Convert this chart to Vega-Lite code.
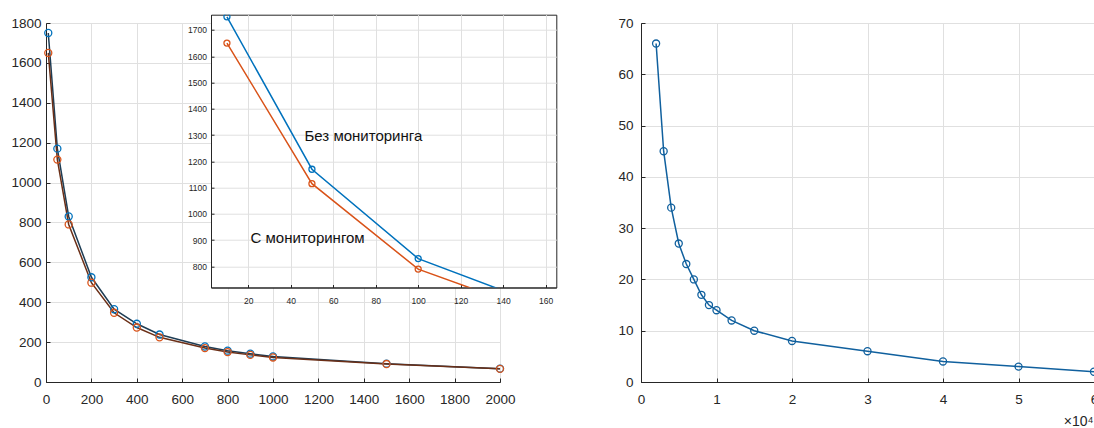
{
  "$schema": "https://vega.github.io/schema/vega-lite/v6.json",
  "autosize": {"type": "none"},
  "padding": {"left": 46, "top": 23, "right": 1048, "bottom": 405},
  "background": "white",
  "datasets": {
    "main": [
      {"x": 10, "y": 1750, "series": "Без мониторинга"},
      {"x": 50, "y": 1170, "series": "Без мониторинга"},
      {"x": 100, "y": 830, "series": "Без мониторинга"},
      {"x": 200, "y": 525, "series": "Без мониторинга"},
      {"x": 300, "y": 365, "series": "Без мониторинга"},
      {"x": 400, "y": 292, "series": "Без мониторинга"},
      {"x": 500, "y": 238, "series": "Без мониторинга"},
      {"x": 700, "y": 178, "series": "Без мониторинга"},
      {"x": 800, "y": 157, "series": "Без мониторинга"},
      {"x": 900, "y": 142, "series": "Без мониторинга"},
      {"x": 1000, "y": 128, "series": "Без мониторинга"},
      {"x": 1500, "y": 92, "series": "Без мониторинга"},
      {"x": 2000, "y": 67, "series": "Без мониторинга"},
      {"x": 10, "y": 1650, "series": "С мониторингом"},
      {"x": 50, "y": 1115, "series": "С мониторингом"},
      {"x": 100, "y": 790, "series": "С мониторингом"},
      {"x": 200, "y": 498, "series": "С мониторингом"},
      {"x": 300, "y": 347, "series": "С мониторингом"},
      {"x": 400, "y": 273, "series": "С мониторингом"},
      {"x": 500, "y": 224, "series": "С мониторингом"},
      {"x": 700, "y": 170, "series": "С мониторингом"},
      {"x": 800, "y": 150, "series": "С мониторингом"},
      {"x": 900, "y": 136, "series": "С мониторингом"},
      {"x": 1000, "y": 123, "series": "С мониторингом"},
      {"x": 1500, "y": 90, "series": "С мониторингом"},
      {"x": 2000, "y": 66, "series": "С мониторингом"}
    ],
    "right": [
      {"n": 2000, "v": 66},
      {"n": 3000, "v": 45},
      {"n": 4000, "v": 34},
      {"n": 5000, "v": 27},
      {"n": 6000, "v": 23},
      {"n": 7000, "v": 20},
      {"n": 8000, "v": 17},
      {"n": 9000, "v": 15},
      {"n": 10000, "v": 14},
      {"n": 12000, "v": 12},
      {"n": 15000, "v": 10},
      {"n": 20000, "v": 8},
      {"n": 30000, "v": 6},
      {"n": 40000, "v": 4},
      {"n": 50000, "v": 3},
      {"n": 60000, "v": 2}
    ],
    "notes": [
      {"label": "Без мониторинга", "x": 46.5, "y": 1296},
      {"label": "С мониторингом", "x": 21.1, "y": 908}
    ]
  },
  "columns": 2,
  "align": {"row": "none", "column": "each"},
  "bounds": "flush",
  "spacing": {"row": -367.3, "column": 141},
  "concat": [
    {
      "width": 454,
      "height": 359,
      "data": {"name": "main"},
      "encoding": {
        "x": {"field": "x", "type": "quantitative", "scale": {"domain": [0, 2000], "nice": false, "zero": false},
              "axis": {"title": null, "format": "d", "labelOverlap": false, "values": [0, 200, 400, 600, 800, 1000, 1200, 1400, 1600, 1800, 2000], "labelPadding": 14, "labelBaseline": "top"}},
        "y": {"field": "y", "type": "quantitative", "scale": {"domain": [0, 1800], "nice": false, "zero": false},
              "axis": {"title": null, "format": "d", "labelOverlap": false, "values": [0, 200, 400, 600, 800, 1000, 1200, 1400, 1600, 1800], "labelPadding": 9}}
      },
      "layer": [
        {
          "mark": {"type": "line", "strokeWidth": 1.5},
          "encoding": {
            "stroke": {"field": "series", "type": "nominal", "scale": {"domain": ["Без мониторинга", "С мониторингом"], "range": ["#1e3d55", "#6b2f17"]}, "legend": null}
          }
        },
        {
          "mark": {"type": "point", "filled": false, "size": 50, "strokeWidth": 1.3, "opacity": 1},
          "encoding": {
            "color": {"field": "series", "type": "nominal", "scale": {"domain": ["Без мониторинга", "С мониторингом"], "range": ["#0072BD", "#D95319"]}, "legend": null}
          }
        }
      ]
    },
    {
      "width": 453,
      "height": 359,
      "data": {"name": "right"},
      "encoding": {
        "x": {"field": "n", "type": "quantitative", "scale": {"domain": [0, 60000], "nice": false, "zero": false},
              "axis": {"values": [0, 10000, 20000, 30000, 40000, 50000, 60000], "labelExpr": "datum.value / 10000", "labelOverlap": false, "labelPadding": 14, "labelBaseline": "top",
                       "title": "×10⁴", "titleAlign": "right", "titleAnchor": "end", "titleX": 452, "titleY": 43, "titleBaseline": "alphabetic", "titleFontWeight": "normal", "titleFontSize": 14, "titleColor": "#262626", "titleFont": "Liberation Sans"}},
        "y": {"field": "v", "type": "quantitative", "scale": {"domain": [0, 70], "nice": false, "zero": false},
              "axis": {"title": null, "labelOverlap": false, "values": [0, 10, 20, 30, 40, 50, 60, 70], "labelPadding": 12}}
      },
      "layer": [
        {"mark": {"type": "line", "strokeWidth": 1.5, "color": "#10609e"}},
        {"mark": {"type": "point", "filled": false, "size": 50, "strokeWidth": 1.3, "opacity": 1, "color": "#10609e"}}
      ]
    },
    {
      "hconcat": [
        {
          "width": 164.7,
          "height": 1,
          "view": {"stroke": null},
          "data": {"values": []},
          "mark": "rule",
          "encoding": {}
        },
        {
          "width": 345.3,
          "height": 272.8,
          "view": {"fill": "white", "stroke": "#262626"},
          "encoding": {
            "x": {"field": "x", "type": "quantitative", "scale": {"domain": [2.5, 165], "nice": false, "zero": false},
                  "axis": {"title": null, "labelOverlap": false, "values": [20, 40, 60, 80, 100, 120, 140, 160], "labelFontSize": 8.5, "tickSize": -3, "labelPadding": 11.5, "labelBaseline": "top"}},
            "y": {"field": "y", "type": "quantitative", "scale": {"domain": [720, 1758], "nice": false, "zero": false},
                  "axis": {"title": null, "format": "d", "labelOverlap": false, "values": [800, 900, 1000, 1100, 1200, 1300, 1400, 1500, 1600, 1700], "labelFontSize": 8.5, "tickSize": -3, "labelPadding": 7.5}}
          },
          "layer": [
            {
              "data": {"name": "main"},
              "mark": {"type": "line", "strokeWidth": 1.5, "clip": true},
              "encoding": {
                "color": {"field": "series", "type": "nominal", "scale": {"domain": ["Без мониторинга", "С мониторингом"], "range": ["#0072BD", "#D95319"]}, "legend": null}
              }
            },
            {
              "data": {"name": "main"},
              "mark": {"type": "point", "filled": false, "size": 36, "strokeWidth": 1.3, "opacity": 1, "clip": true},
              "encoding": {
                "color": {"field": "series", "type": "nominal", "legend": null}
              }
            },
            {
              "data": {"name": "notes"},
              "mark": {"type": "text", "align": "left", "baseline": "middle", "fontSize": 15, "font": "Liberation Sans", "color": "#111111"},
              "encoding": {
                "text": {"field": "label"}
              }
            }
          ]
        }
      ],
      "spacing": 0,
      "bounds": "flush"
    }
  ],
  "config": {
    "font": "Liberation Sans",
    "view": {"stroke": "#262626", "strokeWidth": 1},
    "axis": {
      "domainColor": "#262626",
      "tickColor": "#262626",
      "labelColor": "#262626",
      "gridColor": "#e0e0e0",
      "grid": true,
      "labelFont": "Liberation Sans",
      "labelFontSize": 13.5,
      "tickSize": -4,
      "labelFlush": false,
      "labelOverlap": false
    }
  }
}
